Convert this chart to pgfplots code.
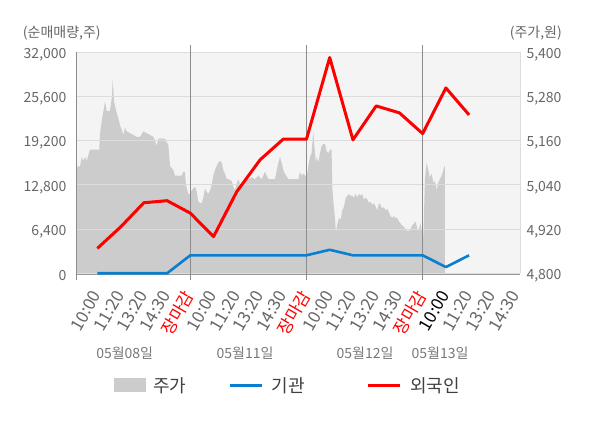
\documentclass[border=0pt]{standalone}
\usepackage{fontspec}
\setmainfont{Noto Sans CJK KR}
\usepackage{pgfplots}
\pgfplotsset{compat=1.18}
\definecolor{bgc}{HTML}{F4F4F4}
\definecolor{areac}{HTML}{CCCCCC}
\definecolor{gridc}{HTML}{DCDCDC}
\definecolor{sepc}{HTML}{8C8C8C}
\definecolor{txtc}{HTML}{666666}
\definecolor{datec}{HTML}{777777}
\definecolor{legc}{HTML}{404040}
\definecolor{redc}{HTML}{FF0000}
\definecolor{bluec}{HTML}{0A7ECF}
\pgfplotstableread{
x p
0.08 5055
0.14 5090
0.25 5090
0.33 5115
0.40 5105
0.47 5115
0.54 5105
0.61 5120
0.68 5135
1.08 5135
1.11 5175
1.19 5215
1.26 5240
1.33 5265
1.40 5240
1.47 5240
1.54 5240
1.62 5275
1.66 5325
1.72 5265
1.83 5235
1.90 5220
1.98 5200
2.05 5190
2.12 5175
2.19 5195
2.26 5185
2.41 5180
2.55 5175
2.69 5170
2.84 5170
2.98 5185
3.12 5180
3.27 5175
3.41 5170
3.48 5160
3.55 5145
3.62 5165
3.77 5165
3.91 5165
3.98 5155
4.05 5150
4.13 5090
4.20 5085
4.27 5080
4.34 5065
4.63 5065
4.70 5075
4.77 5075
4.81 5040
4.91 5015
4.99 5015
5.06 5025
5.20 5035
5.28 5020
5.34 4995
5.42 4990
5.49 4990
5.56 5005
5.63 5030
5.71 5020
5.77 5015
5.85 5025
5.92 5040
5.99 5065
6.06 5080
6.20 5100
6.28 5105
6.35 5100
6.42 5080
6.49 5070
6.57 5055
6.64 5055
6.78 5050
6.85 5035
6.92 5025
7.00 5045
7.07 5055
7.14 5040
7.21 5040
7.35 5055
7.50 5055
7.64 5060
7.78 5055
7.93 5065
8.07 5055
8.21 5075
8.36 5055
8.50 5055
8.64 5055
8.79 5100
8.86 5115
8.93 5100
9.00 5080
9.07 5070
9.22 5055
9.36 5055
9.51 5055
9.65 5055
9.72 5075
9.79 5065
9.86 5070
9.94 5065
10.01 5060
10.08 5090
10.15 5115
10.22 5125
10.29 5185
10.34 5145
10.40 5100
10.44 5115
10.51 5100
10.58 5125
10.65 5145
10.72 5150
10.80 5150
10.87 5130
10.94 5125
11.01 5135
11.08 5135
11.11 5035
11.15 5000
11.23 4945
11.27 4910
11.33 4935
11.40 4950
11.47 4945
11.54 4970
11.61 4980
11.69 5005
11.76 5010
11.83 5015
11.90 5010
11.97 5010
12.04 5005
12.12 5015
12.19 5005
12.26 5015
12.33 5010
12.40 5015
12.47 5000
12.55 5005
12.62 5000
12.69 4990
12.76 4995
12.83 4985
12.90 4990
12.98 4980
13.05 4970
13.12 4990
13.19 4985
13.26 4975
13.33 4980
13.41 4970
13.48 4975
13.55 4965
13.62 4955
13.69 4950
13.76 4955
13.84 4950
13.91 4950
13.98 4940
14.05 4935
14.12 4930
14.20 4925
14.27 4920
14.34 4915
14.41 4915
14.48 4920
14.55 4930
14.63 4935
14.70 4940
14.77 4920
14.84 4920
14.91 4935
14.98 4910
15.03 4900
15.10 5055
15.17 5100
15.24 5080
15.31 5060
15.39 5070
15.46 5045
15.53 5050
15.60 5025
15.67 5045
15.74 5055
15.82 5065
15.89 5080
15.93 5090
15.96 5090
}\pricetable
\pgfplotstableread{
x v
1 3600
2 6700
3 10200
4 10500
5 8700
6 5300
7 11800
8 16400
9 19400
10 19400
11 31200
12 19300
13 24200
14 23200
15 20200
16 26800
17 22900
}\foreigntable
\pgfplotstableread{
x v
1 0
2 0
3 0
4 0
5 2600
6 2600
7 2600
8 2600
9 2600
10 2600
11 3400
12 2600
13 2600
14 2600
15 2600
16 900
17 2600
}\insttable
\begin{document}
\begin{tikzpicture}
\path[use as bounding box] (0pt,0pt) rectangle (600pt,428pt);
% price axis (right)
\begin{axis}[
  at={(76pt,154.7pt)}, anchor=south west, scale only axis,
  width=444pt, height=221.3pt,
  xmin=0.08, xmax=19.19, ymin=4800, ymax=5400,
  axis x line=none, axis y line*=right,
  axis line style={-, draw=gridc},
  axis background/.style={fill=bgc},
  ytick={4800,4920,5040,5160,5280,5400},
  scaled y ticks=false,
  ytick style={draw=none},
  yticklabel style={font=\fontsize{14}{16}\selectfont, text=txtc, xshift=3pt, yshift=-2.5pt,
    /pgf/number format/.cd, 1000 sep={,}, assume math mode=true},
]
\addplot[fill=areac, draw=none] table[x=x,y=p] {\pricetable} \closedcycle;
\end{axis}
% volume axis (left)
\begin{axis}[
  at={(76pt,154.7pt)}, anchor=south west, scale only axis,
  width=444pt, height=221.3pt,
  xmin=0.08, xmax=19.19, ymin=0, ymax=32000,
  axis x line*=bottom, axis y line*=left,
  axis line style={-, draw=sepc},
  x axis line style={yshift=-1.2pt, draw=gray!80},
  clip=false,
  ymajorgrids, major grid style={draw=gridc, line width=0.8pt},
  ytick={0,6400,12800,19200,25600,32000},
  scaled y ticks=false,
  ytick style={draw=none}, xtick style={draw=none},
  yticklabel style={font=\fontsize{14}{16}\selectfont, text=txtc, xshift=-6pt, yshift=-2.5pt,
    /pgf/number format/.cd, 1000 sep={,}, assume math mode=true},
  xtick={1,...,19},
  xticklabels={10:00,11:20,13:20,14:30,\textcolor{redc}{장마감},
               10:00,11:20,13:20,14:30,\textcolor{redc}{장마감},
               10:00,11:20,13:20,14:30,\textcolor{redc}{장마감},
               \textcolor{black}{10:00},11:20,13:20,14:30},
  xticklabel style={font=\fontsize{17}{17}\selectfont, text=txtc, xshift=-1pt, yshift=-19pt, rotate=60, anchor=east, inner sep=0pt},
]
\draw[sepc, line width=0.8pt] (axis cs:5,-900) -- (axis cs:5,33000);
\draw[sepc, line width=0.8pt] (axis cs:10,-900) -- (axis cs:10,33000);
\draw[sepc, line width=0.8pt] (axis cs:15,-900) -- (axis cs:15,33000);
\draw[sepc, line width=0.8pt] (axis cs:0.08,-900) -- (axis cs:0.08,0);
\addplot[bluec, line width=2.6pt, line join=round] table[x=x,y=v] {\insttable};
\addplot[redc, line width=3pt, line join=round] table[x=x,y=v] {\foreigntable};
\end{axis}
% axis titles
\node[anchor=west, inner sep=0, font=\fontsize{14}{16}\selectfont, text=txtc] at (22.7pt,394.7pt) {(순매매량,주)};
\node[anchor=east, inner sep=0, font=\fontsize{14}{16}\selectfont, text=txtc] at (562pt,394.7pt) {(주가,원)};
% date labels
\node[inner sep=0, font=\fontsize{14}{16}\selectfont, text=datec] at (124.7pt,75pt) {05월08일};
\node[inner sep=0, font=\fontsize{14}{16}\selectfont, text=datec] at (245pt,75pt) {05월11일};
\node[inner sep=0, font=\fontsize{14}{16}\selectfont, text=datec] at (365pt,75pt) {05월12일};
\node[inner sep=0, font=\fontsize{14}{16}\selectfont, text=datec] at (440pt,75pt) {05월13일};
% legend
\fill[areac] (114pt,35.7pt) rectangle (145.7pt,49.7pt);
\node[anchor=west, inner sep=0, font=\fontsize{18}{20}\selectfont, text=legc] at (153pt,42.3pt) {주가};
\draw[bluec, line width=3pt] (230pt,42.3pt) -- (262pt,42.3pt);
\node[anchor=west, inner sep=0, font=\fontsize{18}{20}\selectfont, text=legc] at (271.7pt,42.3pt) {기관};
\draw[redc, line width=3pt] (368pt,42.3pt) -- (400pt,42.3pt);
\node[anchor=west, inner sep=0, font=\fontsize{18}{20}\selectfont, text=legc] at (410pt,42.3pt) {외국인};
\end{tikzpicture}
\end{document}
